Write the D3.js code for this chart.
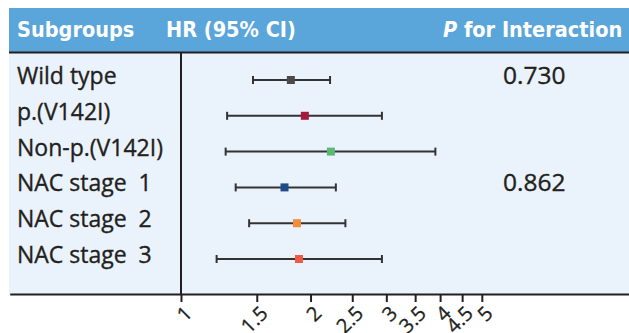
<!DOCTYPE html>
<html><head><meta charset="utf-8">
<script src="https://cdn.jsdelivr.net/npm/d3@7"></script>
<style>body{margin:0;background:#fff}svg{display:block}</style>
</head><body>
<svg id="c" width="629" height="333"></svg>
<script>
const categories = ["Wild type","p.(V142I)","Non-p.(V142I)","NAC stage  1","NAC stage  2","NAC stage  3"];
const hr    = [1.80, 1.94, 2.23, 1.74, 1.86, 1.88];
const lower = [1.47, 1.28, 1.27, 1.34, 1.44, 1.21];
const upper = [2.22, 2.93, 3.90, 2.29, 2.41, 2.93];
const pInteraction = ["0.730", "", "", "0.862", "", ""];
const pointColors = ["#4a4a4c", "#a6193c", "#5cb874", "#1f4a8a", "#f38d3c", "#f05a42"];
const tickValues = [1, 1.5, 2, 2.5, 3, 3.5, 4, 4.5, 5];
const headers = ["Subgroups", "HR (95% CI)", "for Interaction"];

const W = 629, H = 333;
const svg = d3.select("#c");
const ink = "#231f20";
const bodyFont = "'Open Sans', 'Noto Sans', sans-serif";
const headFont = "'DejaVu Sans Condensed', 'Liberation Sans Narrow', 'DejaVu Sans', sans-serif";

const left = 9, headTop = 8, headBot = 52, axisY = 294;
const x = d3.scaleLog().domain([0.4, 11]).range([9.7, 629.2]);
const y = d3.scalePoint().domain(categories).range([80, 259]);

// header bar
svg.append("rect").attr("x", left).attr("y", headTop).attr("width", W - left).attr("height", headBot - headTop).attr("fill", "#5aa5da");
// body
svg.append("rect").attr("x", left).attr("y", headBot).attr("width", W - left).attr("height", axisY - headBot).attr("fill", "#eaf2fb");
svg.append("line").attr("x1", left).attr("x2", W).attr("y1", headBot + 0.5).attr("y2", headBot + 0.5).attr("stroke", ink).attr("stroke-width", 2.2);

const ht = svg.append("g").attr("fill", "#fff").attr("font-family", headFont).attr("font-weight", "bold").attr("font-size", 21.5).attr("font-stretch", "condensed");
ht.append("text").attr("x", 17).attr("y", 37).text(headers[0]);
ht.append("text").attr("x", 166).attr("y", 37).text(headers[1]);
const pt = ht.append("text").attr("x", 443).attr("y", 37);
pt.append("tspan").attr("font-style", "italic").text("P");
pt.append("tspan").text(" " + headers[2]);

// reference line at HR = 1
svg.append("line").attr("x1", x(1)).attr("x2", x(1)).attr("y1", headBot).attr("y2", axisY).attr("stroke", ink).attr("stroke-width", 2);

// axis
const axis = svg.append("g").attr("transform", `translate(0,${axisY})`)
  .call(d3.axisBottom(x).tickValues(tickValues).tickFormat(d3.format("")).tickSize(8).tickSizeOuter(0));
axis.select(".domain").attr("stroke", ink).attr("stroke-width", 2.2);
axis.selectAll(".tick line").attr("stroke", ink).attr("stroke-width", 2);
axis.selectAll(".tick text")
  .attr("x", 0).attr("y", 0).attr("dy", 0)
  .attr("text-anchor", "end")
  .attr("transform", "translate(11.8,20.6) rotate(-45)")
  .attr("fill", ink).attr("font-family", bodyFont).attr("font-size", 20)
  .attr("stroke", ink).attr("stroke-width", 0.3);

// rows
const rows = svg.append("g").selectAll("g").data(categories).join("g")
  .attr("transform", d => `translate(0,${y(d)})`);
rows.append("text").attr("x", 17).attr("y", 4).style("white-space", "pre")
  .attr("font-family", bodyFont).attr("font-size", 23).attr("fill", ink)
  .attr("stroke", ink).attr("stroke-width", 0.35).text(d => d);
rows.append("text").attr("x", 503).attr("y", 4)
  .attr("font-family", bodyFont).attr("font-size", 24.5).attr("fill", ink)
  .attr("stroke", ink).attr("stroke-width", 0.35).text((d, i) => pInteraction[i]);
rows.append("line").attr("x1", (d, i) => x(lower[i])).attr("x2", (d, i) => x(upper[i]))
  .attr("stroke", "#333235").attr("stroke-width", 2);
rows.append("line").attr("x1", (d, i) => x(lower[i])).attr("x2", (d, i) => x(lower[i])).attr("y1", -4).attr("y2", 4)
  .attr("stroke", "#333235").attr("stroke-width", 2);
rows.append("line").attr("x1", (d, i) => x(upper[i])).attr("x2", (d, i) => x(upper[i])).attr("y1", -4).attr("y2", 4)
  .attr("stroke", "#333235").attr("stroke-width", 2);
rows.append("rect").attr("x", (d, i) => x(hr[i]) - 4).attr("y", -4).attr("width", 8).attr("height", 8)
  .attr("fill", (d, i) => pointColors[i]);
</script>
</body></html>
